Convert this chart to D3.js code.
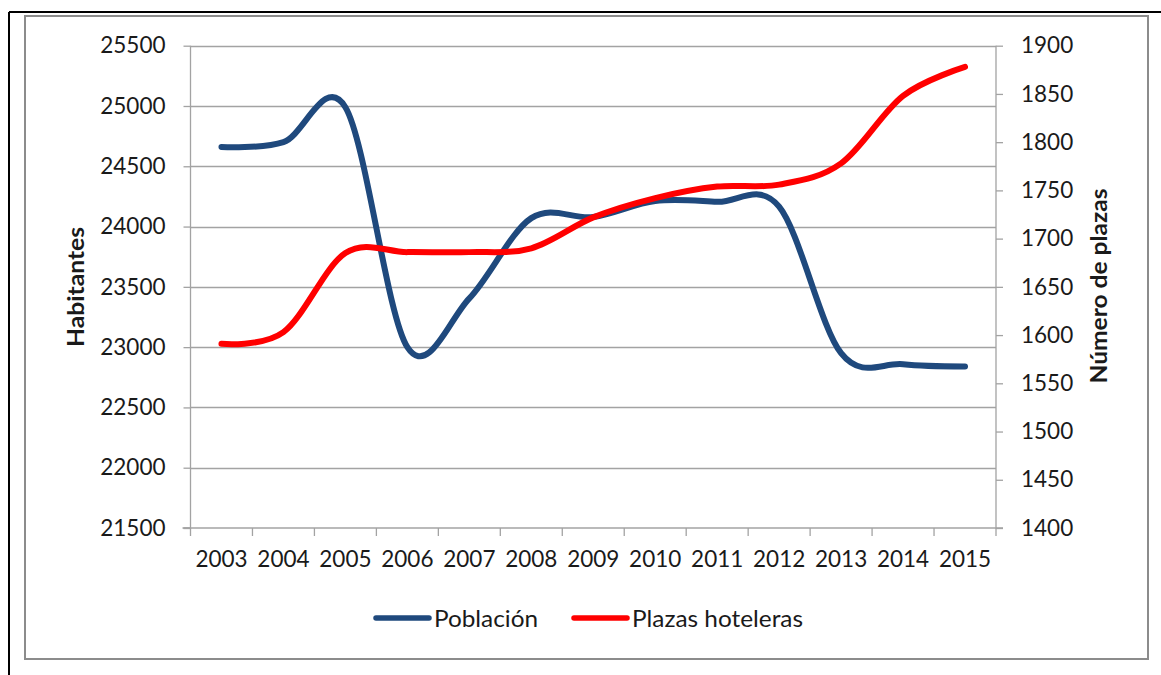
<!DOCTYPE html>
<html>
<head>
<meta charset="utf-8">
<script src="https://cdn.jsdelivr.net/npm/d3@7"></script>
<style>
  html, body { margin: 0; padding: 0; background: #fff; }
  svg { display: block; }
  text { font-family: Lato, "Open Sans", sans-serif; fill: #1a1a1a; }
</style>
</head>
<body>
<svg id="chart" width="1161" height="675"></svg>
<script>
// Years on the category axis
const years = ["2003","2004","2005","2006","2007","2008","2009","2010","2011","2012","2013","2014","2015"];
// Población (habitantes), left axis
const poblacion = [24660, 24700, 24990, 23000, 23405, 24070, 24080, 24212, 24205, 24165, 22950, 22858, 22840];
// Plazas hoteleras (número de plazas), right axis
const plazas = [1591, 1603, 1685, 1686, 1686, 1690, 1722, 1742, 1754, 1756, 1778, 1848, 1878];
// Axis ticks
const leftTicks = [21500, 22000, 22500, 23000, 23500, 24000, 24500, 25000, 25500];
const rightTicks = [1400, 1450, 1500, 1550, 1600, 1650, 1700, 1750, 1800, 1850, 1900];

const svg = d3.select("#chart");
const plot = { left: 190.5, right: 996, top: 45.7, bottom: 528 };

const x = d3.scaleBand().domain(years).range([plot.left, plot.right]).padding(0);
const yL = d3.scaleLinear().domain([21500, 25500]).range([plot.bottom, plot.top]);
const yR = d3.scaleLinear().domain([1400, 1900]).range([plot.bottom, plot.top]);

// Outer frame: black top and left edge, grey inner border
svg.append("line").attr("x1", 9).attr("y1", 12).attr("x2", 1161).attr("y2", 12)
  .attr("stroke", "#000").attr("stroke-width", 2);
svg.append("line").attr("x1", 9).attr("y1", 12).attr("x2", 9).attr("y2", 675)
  .attr("stroke", "#000").attr("stroke-width", 2);
svg.append("rect").attr("x", 25).attr("y", 16).attr("width", 1123).attr("height", 643)
  .attr("fill", "none").attr("stroke", "#8c8c8c").attr("stroke-width", 2);

const gridColor = "#a3a3a3";

// Horizontal gridlines
svg.append("g").selectAll("line").data(leftTicks.filter(d => d !== 21500)).join("line")
  .attr("x1", plot.left).attr("x2", plot.right)
  .attr("y1", d => Math.round(yL(d)) + 0.5).attr("y2", d => Math.round(yL(d)) + 0.5)
  .attr("stroke", gridColor).attr("stroke-width", 1.3);

// Left axis
const gL = svg.append("g").attr("transform", `translate(${plot.left},0)`)
  .call(d3.axisLeft(yL).tickValues(leftTicks).tickSize(7).tickPadding(18).tickFormat(d3.format("d")));
// Right axis
const gR = svg.append("g").attr("transform", `translate(${plot.right},0)`)
  .call(d3.axisRight(yR).tickValues(rightTicks).tickSize(7).tickPadding(18).tickFormat(d3.format("d")));
// Bottom axis: labels at category centres
const gB = svg.append("g").attr("transform", `translate(0,${plot.bottom})`)
  .call(d3.axisBottom(x).tickSize(0).tickPadding(23));
// Category boundary ticks
const bounds = years.map(d => x(d)).concat([plot.right]);
svg.append("g").selectAll("line").data(bounds).join("line")
  .attr("x1", d => d).attr("x2", d => d)
  .attr("y1", plot.bottom).attr("y2", plot.bottom + 8)
  .attr("stroke", gridColor).attr("stroke-width", 1.3);

[gL, gR, gB].forEach(g => {
  g.selectAll(".domain").attr("stroke", gridColor).attr("stroke-width", 1.3);
  g.selectAll(".tick line").attr("stroke", gridColor).attr("stroke-width", 1.3);
  g.selectAll(".tick text").attr("font-size", 22.5).attr("fill", "#1a1a1a")
    .style("font-family", "Lato, 'Open Sans', sans-serif");
});
gL.select(".domain").attr("d", `M-7,${plot.bottom}H0V${plot.top}`);
gR.select(".domain").attr("d", `M7,${plot.bottom}H0V${plot.top}`);
gB.select(".domain").attr("d", `M${plot.left - 8},0H${plot.right}`);

// Axis titles
svg.append("text").text("Habitantes")
  .attr("transform", "translate(75,287) rotate(-90)")
  .attr("text-anchor", "middle").attr("dominant-baseline", "central")
  .attr("font-size", 22.5).attr("font-weight", "bold")
  .attr("textLength", 120).attr("lengthAdjust", "spacingAndGlyphs");
svg.append("text").text("Número de plazas")
  .attr("transform", "translate(1098,286) rotate(-90)")
  .attr("text-anchor", "middle").attr("dominant-baseline", "central")
  .attr("font-size", 22.5).attr("font-weight", "bold")
  .attr("textLength", 195).attr("lengthAdjust", "spacingAndGlyphs");

// Smoothed series lines
const cx = d => x(d) + x.bandwidth() / 2;
const lineL = d3.line().x((d, i) => cx(years[i])).y(d => yL(d)).curve(d3.curveCardinal.tension(0));
const lineR = d3.line().x((d, i) => cx(years[i])).y(d => yR(d)).curve(d3.curveCardinal.tension(0));

const blue = "#1f497d", red = "#ff0000";
svg.append("path").datum(poblacion).attr("d", lineL)
  .attr("fill", "none").attr("stroke", blue).attr("stroke-width", 6)
  .attr("stroke-linecap", "round").attr("stroke-linejoin", "round");
svg.append("path").datum(plazas).attr("d", lineR)
  .attr("fill", "none").attr("stroke", red).attr("stroke-width", 6)
  .attr("stroke-linecap", "round").attr("stroke-linejoin", "round");

// Legend
const legend = [
  { name: "Población", color: blue, x: 376, w: 104 },
  { name: "Plazas hoteleras", color: red, x: 574, w: 171 }
];
const lg = svg.append("g").selectAll("g").data(legend).join("g")
  .attr("transform", d => `translate(${d.x},618)`);
lg.append("line").attr("x1", 0).attr("x2", 53).attr("y1", 0).attr("y2", 0)
  .attr("stroke", d => d.color).attr("stroke-width", 5.5).attr("stroke-linecap", "round");
lg.append("text").text(d => d.name).attr("x", 58).attr("y", 0)
  .attr("dominant-baseline", "central").attr("font-size", 23)
  .attr("textLength", d => d.w).attr("lengthAdjust", "spacingAndGlyphs");
</script>
</body>
</html>
